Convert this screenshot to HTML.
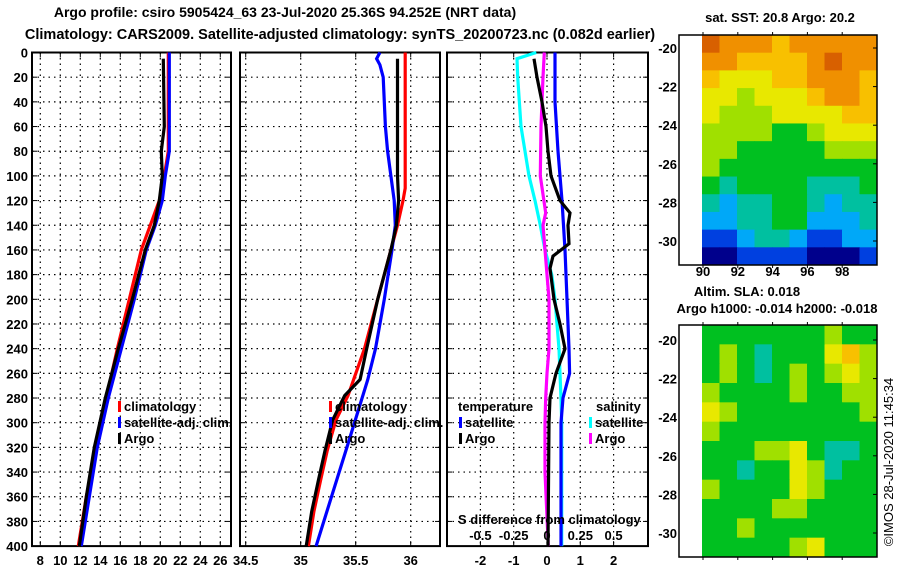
<!DOCTYPE html>
<html><head><meta charset="utf-8"><style>
body{margin:0;background:#fff;width:900px;height:580px;overflow:hidden}
svg text{font-family:"Liberation Sans",sans-serif;font-weight:bold;font-size:13px;fill:#000}
</style></head><body>
<svg id="c" width="900" height="580" xmlns="http://www.w3.org/2000/svg"></svg>
<script>
// ---- data ----
const depthTicks=[0,20,40,60,80,100,120,140,160,180,200,220,240,260,280,300,320,340,360,380,400];
const tTicks=[8,10,12,14,16,18,20,22,24,26];
const sTicks=[34.5,35,35.5,36];
const dTicks=[-2,-1,0,1,2];
const dsTickLabels=["-0.5","-0.25","0","0.25","0.5"];
const dsTickVals=[-0.5,-0.25,0,0.25,0.5];
const tClimD=[0,80,100,120,140,160,200,240,280,320,360,400];
const tClimV=[20.8,20.8,20.4,19.9,19.0,18.1,16.9,15.7,14.6,13.6,12.6,11.8];
const tSatD=[0,40,80,100,120,140,160,200,240,280,320,360,400];
const tSatV=[20.9,20.9,20.9,20.5,20.2,19.5,18.6,17.4,16.1,14.8,13.7,12.9,12.1];
const tArgoD=[5,60,80,100,120,140,160,200,240,280,320,360,400];
const tArgoV=[20.3,20.4,20.1,20.2,19.9,19.4,18.5,17.2,15.8,14.5,13.4,12.6,11.9];
const sClimD=[0,110,120,140,160,200,240,278,298,323,347,372,400];
const sClimV=[35.95,35.95,35.93,35.88,35.82,35.70,35.58,35.43,35.32,35.24,35.18,35.12,35.07];
const sSatD=[0,5,10,20,60,80,100,120,140,160,200,240,265,320,360,400];
const sSatV=[35.72,35.69,35.72,35.75,35.77,35.79,35.82,35.85,35.86,35.83,35.76,35.68,35.61,35.42,35.28,35.14];
const sArgoD=[5,100,120,140,160,180,200,240,265,278,298,323,347,372,400];
const sArgoV=[35.88,35.88,35.89,35.87,35.82,35.76,35.70,35.6,35.54,35.40,35.29,35.22,35.16,35.10,35.05];
const dtSatD=[0,40,80,120,160,200,240,260,280,300,400];
const dtSatV=[0.24,0.24,0.33,0.45,0.54,0.6,0.66,0.68,0.48,0.42,0.42];
const dtArgoD=[5,20,40,60,80,100,120,130,140,155,165,175,200,220,240,260,280,300,400];
const dtArgoV=[-0.39,-0.3,-0.15,-0.03,0.03,0.12,0.39,0.69,0.63,0.66,0.18,0.09,0.21,0.39,0.54,0.27,0.09,0.06,0.03];
const dsSatD=[0,5,20,60,100,120,140,160,180,200,240,280,300,400];
const dsSatV=[-0.08,-0.225,-0.22,-0.195,-0.135,-0.09,-0.05,-0.015,0.035,0.06,0.09,0.105,0.11,0.11];
const dsArgoD=[0,20,60,100,130,140,160,200,240,260,280,300,340,400];
const dsArgoV=[-0.02,-0.03,-0.045,-0.05,-0.01,-0.03,-0.015,0.015,0.015,0.0,-0.01,-0.015,-0.015,0.01];
const sstGrid=[
[9,8,8,8,7,8,8,8,8,8],
[8,8,7,7,7,7,8,9,8,8],
[7,6,6,6,7,7,8,8,8,7],
[6,6,5,6,6,6,7,8,8,7],
[6,5,5,5,6,6,6,6,7,7],
[5,5,5,5,4,4,5,6,6,6],
[5,5,4,4,4,4,4,5,5,5],
[5,4,4,4,4,4,4,4,4,4],
[4,3,4,4,4,4,3,3,3,4],
[3,2,3,3,4,4,3,2,3,3],
[2,2,3,3,4,4,2,2,2,3],
[1,1,2,3,3,2,1,1,2,2],
[0,0,1,1,1,1,0,0,0,1]];
const slaGrid=[
[4,4,4,4,4,4,4,5,4,4],
[4,5,4,3,4,4,4,6,7,5],
[4,5,4,3,4,5,4,5,6,5],
[5,4,4,4,4,5,4,4,5,5],
[6,5,4,4,4,4,4,4,4,5],
[5,4,4,4,4,4,4,4,4,4],
[4,4,4,5,5,6,4,3,3,4],
[4,4,3,4,4,6,5,3,4,4],
[5,4,4,4,4,6,5,4,4,4],
[4,4,4,4,5,5,4,4,4,4],
[4,4,5,4,4,4,4,4,4,4],
[4,4,4,4,4,5,6,4,4,4]];
const palette=["#00008c","#0040e0","#00a8f8","#00c0a0","#00c020","#a0e000","#e8e800","#f8c000","#f09000","#d86000"];
const latTicks=[-20,-22,-24,-26,-28,-30];
const lonTicks=[90,92,94,96,98];

// ---- helpers ----
const svg=document.getElementById('c');
const NS="http://www.w3.org/2000/svg";
function mk(tag,attrs,parent){const e=document.createElementNS(NS,tag);for(const k in attrs)e.setAttribute(k,attrs[k]);(parent||svg).appendChild(e);return e;}
function txt(x,y,s,anchor,fill,parent){const t=mk('text',{x:x,y:y,'text-anchor':anchor||'start'},parent);if(fill)t.setAttribute('fill',fill);t.textContent=s;return t;}
const Y=d=>52.5+d*1.234;
const X1=v=>40.3+(v-8)*10;
const X2=v=>300.7+(v-35)*110;
const X3=v=>547+v*33.3;
const X3s=v=>547+v*133.2;

function panel(name,L,R,vgrid){
  const g=mk('g',{});
  
  
  depthTicks.forEach(d=>{ if(d>0&&d<400){mk('line',{x1:L,x2:R,y1:Y(d),y2:Y(d),stroke:'#000','stroke-width':1.2,'stroke-dasharray':'1.5,4'},g);
    mk('line',{x1:L,x2:L+5,y1:Y(d),y2:Y(d),stroke:'#000'},g);mk('line',{x1:R-5,x2:R,y1:Y(d),y2:Y(d),stroke:'#000'},g);} });
  vgrid.forEach(x=>{mk('line',{x1:x,x2:x,y1:Y(0),y2:Y(400),stroke:'#000','stroke-width':1.2,'stroke-dasharray':'1.5,4'},g);
    mk('line',{x1:x,x2:x,y1:Y(0),y2:Y(0)+5,stroke:'#000'},g);mk('line',{x1:x,x2:x,y1:Y(400)-5,y2:Y(400),stroke:'#000'},g);});
  mk('rect',{x:L,y:Y(0),width:R-L,height:Y(400)-Y(0),fill:'none',stroke:'#000','stroke-width':2},g);
  return g;
}
function line(name,D,V,fx,col){
  let p='';D.forEach((d,i)=>{p+=(i?' ':'')+fx(V[i]).toFixed(1)+','+Y(d).toFixed(1);});
  const e=mk('polyline',{points:p,fill:'none',stroke:col,'stroke-width':3.2,'stroke-linejoin':'miter'});
  
  
}
function legend(x,y,label,col,name){
  const g=mk('g',{});
  
  
  mk('rect',{x:x,y:y-9,width:3,height:11,fill:col},g);
  txt(x+6,y+1,label,'start',null,g);
}

// titles
const t1=txt(285,17,"Argo profile: csiro 5905424_63 23-Jul-2020 25.36S 94.252E (NRT data)",'middle');
t1.setAttribute('style','font-size:14px');

const t2=txt(340,39,"Climatology: CARS2009. Satellite-adjusted climatology: synTS_20200723.nc (0.082d earlier)",'middle');
t2.setAttribute('style','font-size:14.5px');


// depth labels
depthTicks.forEach(d=>{const t=txt(28,Y(d)+5,String(d),'end');

});

// panel 1
panel('temperature-panel',32,231,tTicks.map(X1));
tTicks.forEach(v=>{const t=txt(X1(v),565,String(v),'middle');

});
line('temp-climatology-line',tClimD,tClimV,X1,'#ff0000');
line('temp-satellite-line',tSatD,tSatV,X1,'#0000ff');
line('temp-argo-line',tArgoD,tArgoV,X1,'#000');
legend(118,410,'climatology','#f00','legend-climatology');
legend(118,426,'satellite-adj. clim.','#00f','legend-satellite');
legend(118,442,'Argo','#000','legend-argo');

// panel 2
panel('salinity-panel',240,440,sTicks.map(X2));
sTicks.forEach(v=>{const t=txt(X2(v),565,String(v),'middle');

});
line('sal-climatology-line',sClimD,sClimV,X2,'#ff0000');
line('sal-satellite-line',sSatD,sSatV,X2,'#0000ff');
line('sal-argo-line',sArgoD,sArgoV,X2,'#000');
legend(329,410,'climatology','#f00','legend2-climatology');
legend(329,426,'satellite-adj. clim.','#00f','legend2-satellite');
legend(329,442,'Argo','#000','legend2-argo');

// panel 3
panel('difference-panel',447,648,dTicks.map(X3));
dTicks.forEach(v=>{const t=txt(X3(v),565,String(v),'middle');

});
line('sdiff-satellite-line',dsSatD,dsSatV,X3s,'#00ffff');
line('tdiff-satellite-line',dtSatD,dtSatV,X3,'#0000ff');
line('sdiff-argo-line',dsArgoD,dsArgoV,X3s,'#ff00ff');
line('tdiff-argo-line',dtArgoD,dtArgoV,X3,'#000');
txt(458,411,'temperature');
legend(459,426,'satellite','#00f','legend3-temp-satellite');
legend(459,442,'Argo','#000','legend3-temp-argo');
txt(596,411,'salinity');
legend(589,426,'satellite','#0ff','legend3-sal-satellite');
legend(589,442,'Argo','#f0f','legend3-sal-argo');
txt(458,524,'S difference from climatology');
dsTickVals.forEach((v,i)=>{const t=txt(X3s(v),540,dsTickLabels[i],'middle');

});

// maps
function map(name,grid,top,bot,latY){
  const g=mk('g',{});
  
  
  const L=702,R=877,rows=grid.length,cols=grid[0].length,cw=(R-L)/cols,ch=(bot-top)/rows;
  grid.forEach((row,r)=>row.forEach((v,c)=>{
    const cell=mk('rect',{x:L+c*cw,y:top+r*ch,width:cw+0.5,height:ch+0.5,fill:palette[v]},g);
    
    
  }));
  mk('rect',{x:679,y:top,width:198,height:bot-top,fill:'none',stroke:'#000','stroke-width':1.5},g);
  latTicks.forEach(v=>{const y=latY(v);mk('line',{x1:873,x2:877,y1:y,y2:y,stroke:'#000'},g);txt(677,y+5,String(v),'end',null,g);});
  lonTicks.forEach(v=>{const x=703+(v-90)*17.4;mk('line',{x1:x,x2:x,y1:top-3,y2:top,stroke:'#000'},g);mk('line',{x1:x,x2:x,y1:bot,y2:bot+3,stroke:'#000'},g);});
  return g;
}
map('sst-map',sstGrid,35,265,v=>48+(-20-v)*19.3);
lonTicks.forEach(v=>{const t=txt(703+(v-90)*17.4,276,String(v),'middle');

});
txt(780,22,'sat. SST: 20.8 Argo: 20.2','middle');
map('sla-map',slaGrid,325,557,v=>340+(-20-v)*19.3);
txt(747,296,'Altim. SLA: 0.018','middle');
txt(777,313,'Argo h1000: -0.014 h2000: -0.018','middle');
const cp=txt(0,0,'©IMOS 28-Jul-2020 11:45:34','middle');
cp.setAttribute('transform','translate(893,462) rotate(-90)');
cp.setAttribute('style','font-weight:normal');


</script>
</body></html>
